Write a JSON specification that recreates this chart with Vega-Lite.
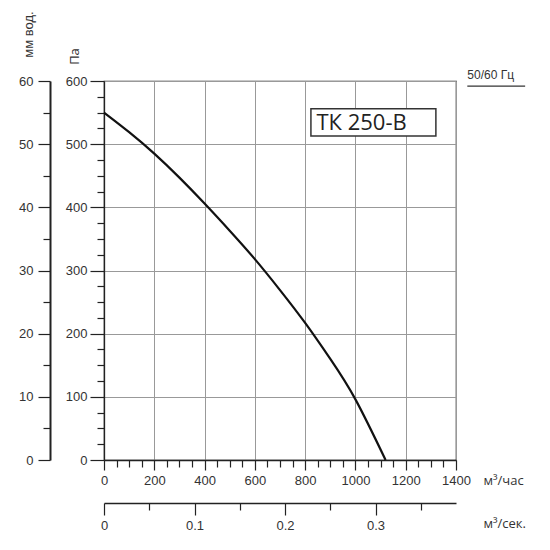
{
  "$schema": "https://vega.github.io/schema/vega-lite/v6.json",
  "description": "Fan curve TK 250-B: pressure vs air flow with secondary axes",
  "autosize": "none",
  "width": 352,
  "height": 379,
  "padding": {"left": 104, "top": 81, "right": 94, "bottom": 90},
  "background": "white",
  "config": {
    "view": {"stroke": "#222", "strokeWidth": 1.2},
    "axis": {
      "labelFont": "Liberation Sans",
      "labelFontSize": 13,
      "labelColor": "#333",
      "titleFont": "Open Sans",
      "titleFontSize": 13,
      "titleFontWeight": "normal",
      "titleColor": "#333",
      "domainColor": "#222",
      "domainWidth": 1.3,
      "tickColor": "#222",
      "tickWidth": 1.2,
      "gridColor": "#999",
      "gridWidth": 1
    }
  },
  "datasets": {
    "curve": [
      {"q": 0, "p": 550},
      {"q": 100, "p": 519},
      {"q": 200, "p": 485},
      {"q": 300, "p": 447},
      {"q": 400, "p": 406},
      {"q": 500, "p": 363},
      {"q": 600, "p": 318},
      {"q": 700, "p": 269},
      {"q": 800, "p": 217},
      {"q": 900, "p": 160},
      {"q": 1000, "p": 96},
      {"q": 1120, "p": 0}
    ],
    "box": [{"q": 823, "q2": 1320, "p": 513, "p2": 556}],
    "model": [{"q": 845, "p": 534, "label": "ТК 250-В"}],
    "hz": [{"q": 1445, "p": 610, "label": "50/60 Гц"}],
    "hzline": [{"q": 1445, "q2": 1675, "p": 592}],
    "mm": [{"mm": 0}, {"mm": 60}],
    "sec": [{"s": 0}, {"s": 0.388889}]
  },
  "layer": [
    {
      "encoding": {
        "x": {
          "field": "q",
          "type": "quantitative",
          "scale": {"domain": [0, 1400], "nice": false, "zero": false},
          "axis": {
            "values": [0, 50, 100, 150, 200, 250, 300, 350, 400, 450, 500, 550, 600, 650, 700, 750, 800, 850, 900, 950, 1000, 1050, 1100, 1150, 1200, 1250, 1300, 1350, 1400],
            "labelExpr": "datum.value % 200 === 0 ? datum.value : ''",
            "labelFlush": false,
            "labelPadding": 4,
            "tickSize": {"condition": {"test": "datum.value % 200 === 0", "value": 10}, "value": 7},
            "gridOpacity": {"condition": {"test": "datum.value % 200 === 0", "value": 1}, "value": 0},
            "title": "м³/час",
            "titleAngle": 0,
            "titleAlign": "left",
            "titleBaseline": "middle",
            "titleX": 379,
            "titleY": 20
          }
        },
        "y": {
          "field": "p",
          "type": "quantitative",
          "scale": {"domain": [0, 600], "nice": false, "zero": false},
          "axis": {
            "values": [0, 25, 50, 75, 100, 125, 150, 175, 200, 225, 250, 275, 300, 325, 350, 375, 400, 425, 450, 475, 500, 525, 550, 575, 600],
            "labelExpr": "datum.value % 100 === 0 ? datum.value : ''",
            "labelFlush": false,
            "labelPadding": 3,
            "tickSize": {"condition": {"test": "datum.value % 100 === 0", "value": 14}, "value": 7},
            "gridOpacity": {"condition": {"test": "datum.value % 100 === 0", "value": 1}, "value": 0},
            "title": "Па",
            "titleAngle": 270,
            "titleAlign": "center",
            "titleBaseline": "middle",
            "titleX": -30,
            "titleY": -25
          }
        }
      },
      "layer": [
        {
          "data": {"name": "curve"},
          "mark": {"type": "line", "color": "#111", "strokeWidth": 2.2, "interpolate": "natural"}
        },
        {
          "data": {"name": "box"},
          "mark": {"type": "rect", "fill": "white", "stroke": "#333", "strokeWidth": 1.5},
          "encoding": {"x2": {"field": "q2"}, "y2": {"field": "p2"}}
        },
        {
          "data": {"name": "model"},
          "mark": {"type": "text", "font": "Open Sans", "fontSize": 22, "color": "#222", "align": "left", "baseline": "middle"},
          "encoding": {"text": {"field": "label"}}
        },
        {
          "data": {"name": "hz"},
          "mark": {"type": "text", "font": "Liberation Sans", "fontSize": 12, "color": "#333", "align": "left", "baseline": "middle"},
          "encoding": {"text": {"field": "label"}}
        },
        {
          "data": {"name": "hzline"},
          "mark": {"type": "rule", "color": "#333", "strokeWidth": 1.2},
          "encoding": {"x2": {"field": "q2"}}
        }
      ]
    },
    {
      "data": {"name": "mm"},
      "mark": {"type": "point", "opacity": 0},
      "encoding": {
        "y": {
          "field": "mm",
          "type": "quantitative",
          "scale": {"domain": [0, 60], "nice": false},
          "axis": {
            "orient": "left",
            "offset": 54,
            "grid": false,
            "values": [0, 5, 10, 15, 20, 25, 30, 35, 40, 45, 50, 55, 60],
            "labelExpr": "datum.value % 10 === 0 ? datum.value : ''",
            "labelFlush": false,
            "labelPadding": 5,
            "domainWidth": 2,
            "tickSize": {"condition": {"test": "datum.value % 10 === 0", "value": 12}, "value": 7},
            "title": "мм вод.",
            "titleFont": "Liberation Sans",
            "titleFontSize": 13,
            "titleAngle": 270,
            "titleAlign": "center",
            "titleBaseline": "middle",
            "titleX": -22,
            "titleY": -47
          }
        }
      }
    },
    {
      "data": {"name": "sec"},
      "mark": {"type": "point", "opacity": 0},
      "encoding": {
        "x": {
          "field": "s",
          "type": "quantitative",
          "scale": {"domain": [0, 0.388889], "nice": false, "zero": false},
          "axis": {
            "orient": "bottom",
            "offset": 43,
            "grid": false,
            "values": [0, 0.05, 0.1, 0.15, 0.2, 0.25, 0.3, 0.35],
            "labelExpr": "abs(datum.value * 10 - round(datum.value * 10)) < 0.001 ? format(datum.value, '.1~f') : ''",
            "labelFlush": false,
            "labelPadding": 4,
            "tickSize": {"condition": {"test": "abs(datum.value * 10 - round(datum.value * 10)) < 0.001", "value": 12}, "value": 7},
            "title": "м³/сек.",
            "titleAngle": 0,
            "titleAlign": "left",
            "titleBaseline": "middle",
            "titleX": 379,
            "titleY": 20
          }
        }
      }
    }
  ],
  "resolve": {"scale": {"x": "independent", "y": "independent"}}
}
